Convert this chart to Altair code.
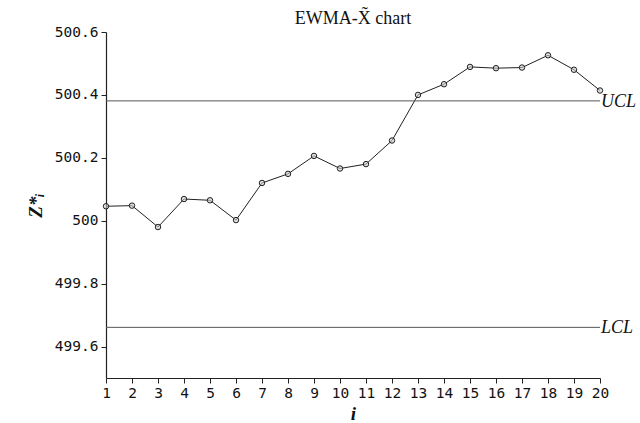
import altair as alt
import pandas as pd

# EWMA statistic per sample
sample = list(range(1, 21))
z_star = [500.046, 500.048, 499.980, 500.069, 500.065, 500.002, 500.120, 500.149,
          500.206, 500.166, 500.180, 500.255, 500.400, 500.434, 500.489, 500.485,
          500.487, 500.526, 500.480, 500.414]

# control limits
limit_names = ["UCL", "LCL"]
limit_values = [500.381, 499.661]

y_ticks = [499.6, 499.8, 500.0, 500.2, 500.4, 500.6]

df = pd.DataFrame({"i": sample, "z": z_star})
limits = pd.DataFrame({"name": limit_names, "z": limit_values, "i": [20, 20]})

serif = "Liberation Serif"
mono = "DejaVu Sans Mono"

x_axis = alt.Axis(values=sample, title="i", labelOverlap=False,
                  labelFlush=False, labelBound=False, titlePadding=5)
y_axis = alt.Axis(values=y_ticks, format=".4~g", title="Z*ᵢ",
                  titlePadding=9, labelOverlap=False)
x_scale = alt.Scale(domain=[1, 20], nice=False)
y_scale = alt.Scale(domain=[499.5, 500.6], nice=False, zero=False)

x_enc = alt.X("i:Q", scale=x_scale, axis=x_axis)
y_enc = alt.Y("z:Q", scale=y_scale, axis=y_axis)

line = alt.Chart(df).mark_line(color="#222", strokeWidth=1).encode(x=x_enc, y=y_enc)
pts = alt.Chart(df).mark_point(shape="circle", size=30, filled=False,
                               color="#222", strokeWidth=1,
                               fill="#cccccc", fillOpacity=0.6).encode(x=x_enc, y=y_enc)

rules = alt.Chart(limits).mark_rule(color="#555", strokeWidth=1).encode(y=y_enc)
labels = alt.Chart(limits).mark_text(align="left", baseline="middle", dx=1, dy=1,
                                     font=serif, fontStyle="italic", fontSize=18,
                                     color="#111").encode(x=x_enc, y=y_enc, text="name:N")

chart = alt.layer(line, pts, rules, labels).properties(
    width=494, height=346,
    title=alt.TitleParams("EWMA-X̃ chart", offset=6, dy=10),
    autosize=alt.AutoSizeParams(type="none"),
    padding={"left": 106, "top": 32, "right": 40, "bottom": 45},
).configure_view(stroke=None).configure_axis(
    grid=False, domainColor="#222", tickColor="#222", domainWidth=1.2,
    labelFont=mono, labelFontSize=14.5, labelColor="#111", tickSize=5,
    labelPadding=3, titleFont=serif, titleFontStyle="italic",
    titleFontWeight="bold", titleFontSize=19, titleColor="#111",
    labelOverlap=False,
).configure_title(
    font=serif, fontSize=18, fontWeight="normal", color="#111"
)

chart.save("out.html", embed_options={"renderer": "svg", "actions": False})
